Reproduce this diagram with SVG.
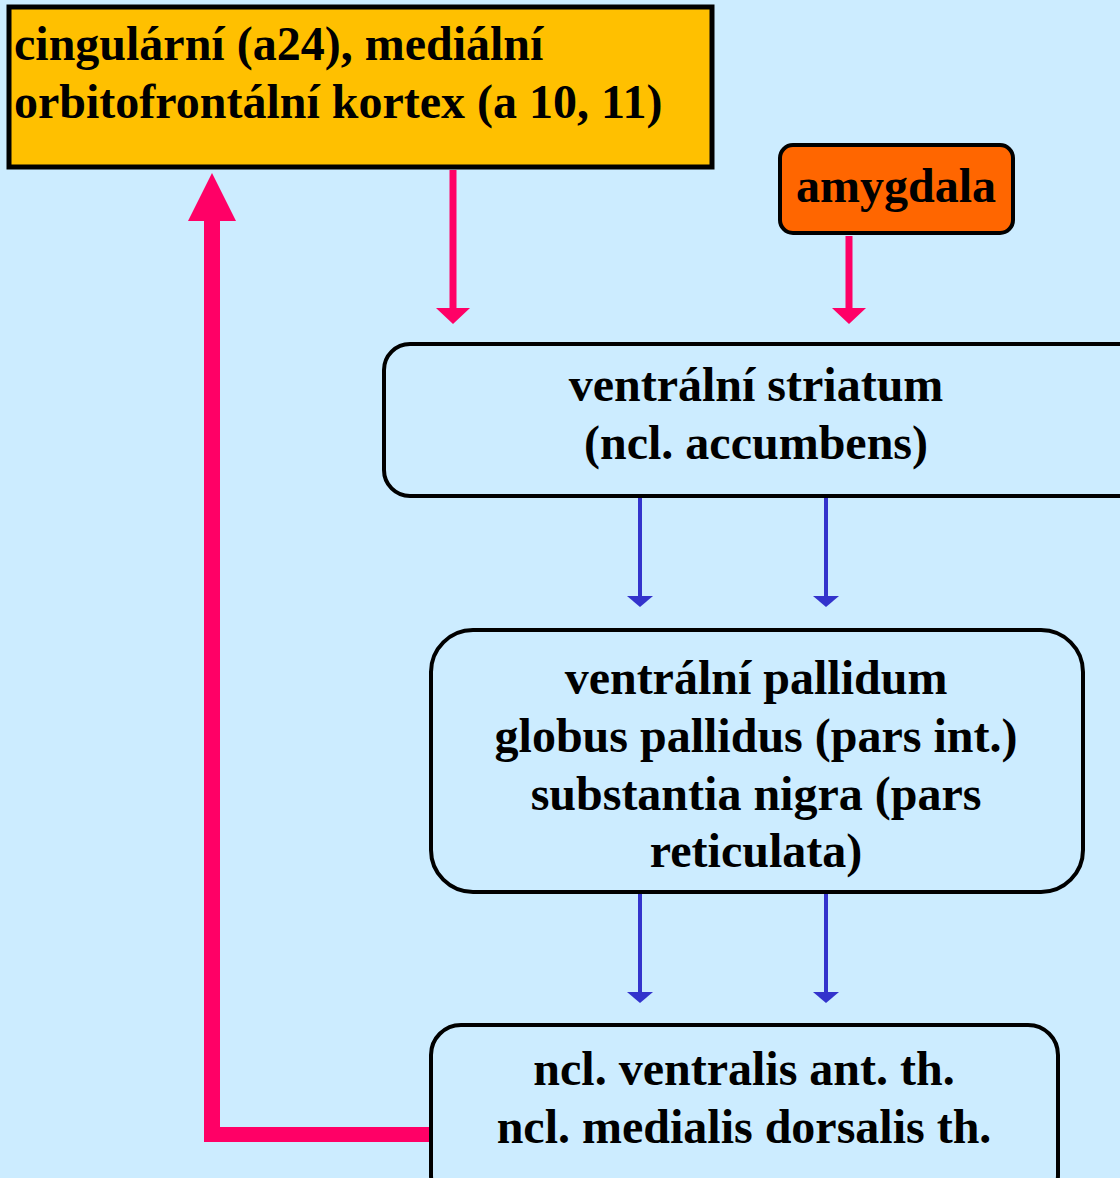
<svg xmlns="http://www.w3.org/2000/svg" width="1120" height="1178" viewBox="0 0 1120 1178">
  <style>
    .lbl { font-family: "Liberation Serif", "Times New Roman", serif; font-weight: bold; font-size: 48px; fill: #000; }
    .mid { text-anchor: middle; }
    .box { fill: #CCECFF; stroke: #000; stroke-width: 4; }
    .pink { stroke: #FF0066; fill: none; }
    .blue { stroke: #3333CC; stroke-width: 4; fill: none; }
  </style>
  <rect width="1120" height="1178" fill="#CCECFF"/>

  <g id="connectors">
    <!-- cortex to striatum -->
    <line class="pink" x1="453" y1="170" x2="453" y2="310" stroke-width="7"/>
    <path d="M436,308 L470,308 L453,324 Z" fill="#FF0066"/>
    <!-- amygdala to striatum -->
    <line class="pink" x1="849" y1="236" x2="849" y2="310" stroke-width="7"/>
    <path d="M832,308 L866,308 L849,324 Z" fill="#FF0066"/>
    <!-- striatum to pallidum -->
    <line class="blue" x1="640" y1="497" x2="640" y2="598"/>
    <path d="M627,596 L653,596 L640,607 Z" fill="#3333CC"/>
    <line class="blue" x1="826" y1="497" x2="826" y2="598"/>
    <path d="M813,596 L839,596 L826,607 Z" fill="#3333CC"/>
    <!-- pallidum to thalamus -->
    <line class="blue" x1="640" y1="893" x2="640" y2="994"/>
    <path d="M627,992 L653,992 L640,1003 Z" fill="#3333CC"/>
    <line class="blue" x1="826" y1="893" x2="826" y2="994"/>
    <path d="M813,992 L839,992 L826,1003 Z" fill="#3333CC"/>
    <!-- thalamus back to cortex -->
    <rect x="204" y="215" width="16" height="926" fill="#FF0066"/>
    <rect x="204" y="1127" width="226" height="15" fill="#FF0066"/>
    <path d="M188,221 L236,221 L212,173 Z" fill="#FF0066"/>
  </g>

  <g id="cortex">
    <rect x="9" y="7" width="703" height="160" fill="#FFC000" stroke="#000" stroke-width="5"/>
    <text class="lbl" x="14" y="60">cingulární (a24), mediální</text>
    <text class="lbl" x="14" y="118">orbitofrontální kortex (a 10, 11)</text>
  </g>

  <g id="amygdala">
    <rect x="780" y="145" width="233" height="88" rx="13" fill="#FF6600" stroke="#000" stroke-width="4"/>
    <text class="lbl mid" x="896" y="202">amygdala</text>
  </g>

  <g id="striatum">
    <rect class="box" x="384" y="344" width="760" height="152" rx="26"/>
    <text class="lbl mid" x="756" y="401">ventrální striatum</text>
    <text class="lbl mid" x="756" y="459">(ncl. accumbens)</text>
  </g>

  <g id="pallidum">
    <rect class="box" x="431" y="630" width="652" height="262" rx="42"/>
    <text class="lbl mid" x="756" y="694">ventrální pallidum</text>
    <text class="lbl mid" x="756" y="752">globus pallidus (pars int.)</text>
    <text class="lbl mid" x="756" y="810">substantia nigra (pars</text>
    <text class="lbl mid" x="756" y="867">reticulata)</text>
  </g>

  <g id="thalamus">
    <rect class="box" x="431" y="1025" width="627" height="180" rx="30"/>
    <text class="lbl mid" x="744" y="1085">ncl. ventralis ant. th.</text>
    <text class="lbl mid" x="744" y="1143">ncl. medialis dorsalis th.</text>
  </g>
</svg>
